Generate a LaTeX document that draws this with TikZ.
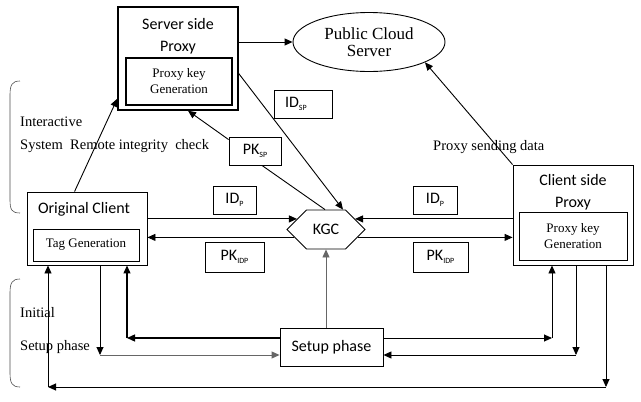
\documentclass[tikz,border=0pt]{standalone}
\usepackage{fontspec}
\setmainfont{Liberation Serif}
\newfontfamily\calib{Carlito}
\usetikzlibrary{arrows.meta,shapes.geometric,shapes.symbols}
\newcommand{\lowsub}[1]{\raisebox{-0.35ex}{\fontsize{8}{8}\selectfont #1}}
\begin{document}
\begin{tikzpicture}[x=1pt,y=-1pt,
    box/.style={draw,line width=0.9pt,inner sep=0pt},
    sans/.style={font=\calib\fontsize{16}{22}\selectfont},
    serif/.style={font=\fontsize{13}{16}\selectfont},
    note/.style={font=\fontsize{14.5}{17}\selectfont,anchor=base west,inner sep=0pt},
    arr/.style={-{Triangle[length=8pt,width=7pt]},line width=0.9pt},
    brace/.style={line width=0.6pt,black!70}]
  \useasboundingbox (0,0) rectangle (641,402);
  \node[box,line width=1.4pt,minimum width=120pt,minimum height=103pt] (sproxy) at (178,58.5) {};
  \node[sans,align=center] (sptitle) at (178,36) {Server side\\Proxy};
  \node[box,line width=1.2pt,serif,align=center,minimum width=106pt,minimum height=47pt] (spkey) at (179,81.5) {Proxy key\\Generation};
  \node[draw,ellipse,line width=0.9pt,minimum width=152pt,minimum height=59pt,inner sep=0pt,
    font=\fontsize{17}{17}\selectfont,align=center] (cloud) at (369,42) {Public Cloud\\Server};
  \node[box,sans,minimum width=58pt,minimum height=28pt,text width=36pt,inner xsep=11pt,align=left] (idsp) at (303,104) {ID\lowsub{SP}};
  \node[box,sans,minimum width=52pt,minimum height=28pt] (pksp) at (255,151) {PK\lowsub{SP}};
  \node[box,minimum width=120pt,minimum height=73pt] (oclient) at (87,228.5) {};
  \node[sans] (octitle) at (84,209) {Original Client};
  \node[box,serif,minimum width=106pt,minimum height=32pt] (tag) at (86,245) {Tag Generation};
  \node[box,sans,minimum width=43pt,minimum height=28pt] (idp1) at (234.5,200) {ID\lowsub{P}};
  \node[box,sans,minimum width=59pt,minimum height=30pt] (pkidp1) at (234.5,257) {PK\lowsub{IDP}};
  \node[draw,signal,signal to=east and west,line width=0.9pt,minimum width=78pt,minimum height=39pt,
    inner sep=0pt,sans] (kgc) at (326,229.5) {KGC};
  \node[box,sans,minimum width=44pt,minimum height=28pt] (idp2) at (435,200) {ID\lowsub{P}};
  \node[box,sans,minimum width=55pt,minimum height=30pt] (pkidp2) at (440.5,257) {PK\lowsub{IDP}};
  \node[box,minimum width=120pt,minimum height=100pt] (cproxy) at (573,215) {};
  \node[sans,align=center] (cptitle) at (573,192) {Client side\\Proxy};
  \node[box,serif,align=center,minimum width=108pt,minimum height=48pt] (cpkey) at (573,236) {Proxy key\\Generation};
  \node[box,sans,minimum width=103pt,minimum height=38pt] (setup) at (331.5,347) {Setup phase};
  \node[note] (inter) at (20,126) {Interactive};
  \node[note] (remote) at (20,149) {System~~Remote integrity~~check};
  \node[note] (init) at (20,317) {Initial};
  \node[note] (setupnote) at (20,350) {Setup phase};
  \node[note] (sending) at (433,150) {Proxy sending data};
  \draw[brace] (20,81) .. controls (12,81) and (10,85) .. (10,95) -- (10,200)
    .. controls (10,210) and (12,213) .. (20,213);
  \draw[brace] (20,279) .. controls (12,279) and (10,283) .. (10,293) -- (10,373)
    .. controls (10,383) and (12,387) .. (20,387);
  \coordinate (la) at (100,355);
  \coordinate (lb) at (127,338);
  \coordinate (lc) at (48,387);
  \coordinate (ra) at (552,338);
  \coordinate (rb) at (576,355);
  \coordinate (rc) at (606,387);
  \begin{scope}[arr]
    \draw (sproxy.east |- cloud.west) to (cloud.west);
    \draw ([xshift=48pt]oclient.north west) to ([yshift=12pt]sproxy.south west);
    \draw ([yshift=-3pt]pksp.north west) to ([xshift=10pt]sproxy.south);
    \draw[-] ([xshift=7pt]pksp.south) to ([xshift=-1pt]kgc.north);
    \draw ([yshift=-15pt]sproxy.east) to ([xshift=17pt]kgc.north);
    \draw (cproxy.north west) to (cloud.-20);
    \draw (oclient.east |- kgc.160) to (kgc.160);
    \draw (kgc.194) to (oclient.east |- kgc.194);
    \draw (cproxy.west |- kgc.20) to (kgc.20);
    \draw (kgc.-14) to (cproxy.west |- kgc.-14);
    \draw[black!60] (setup.north -| kgc.south) to (kgc.south);
    \draw (oclient.south -| la) to (la);
    \draw[black!60] (la) to (setup.west |- la);
    \draw[line width=1.3pt] (setup.west |- lb) to (lb);
    \draw[line width=1.3pt] (lb) to (oclient.south -| lb);
    \draw (rc) to (lc);
    \draw (lc) to (oclient.south -| lc);
    \draw (setup.east |- ra) to (ra);
    \draw (ra) to (cproxy.south -| ra);
    \draw (cproxy.south -| rb) to (rb);
    \draw (rb) to (setup.east |- rb);
    \draw (cproxy.south -| rc) to (rc);
  \end{scope}
\end{tikzpicture}
\end{document}
